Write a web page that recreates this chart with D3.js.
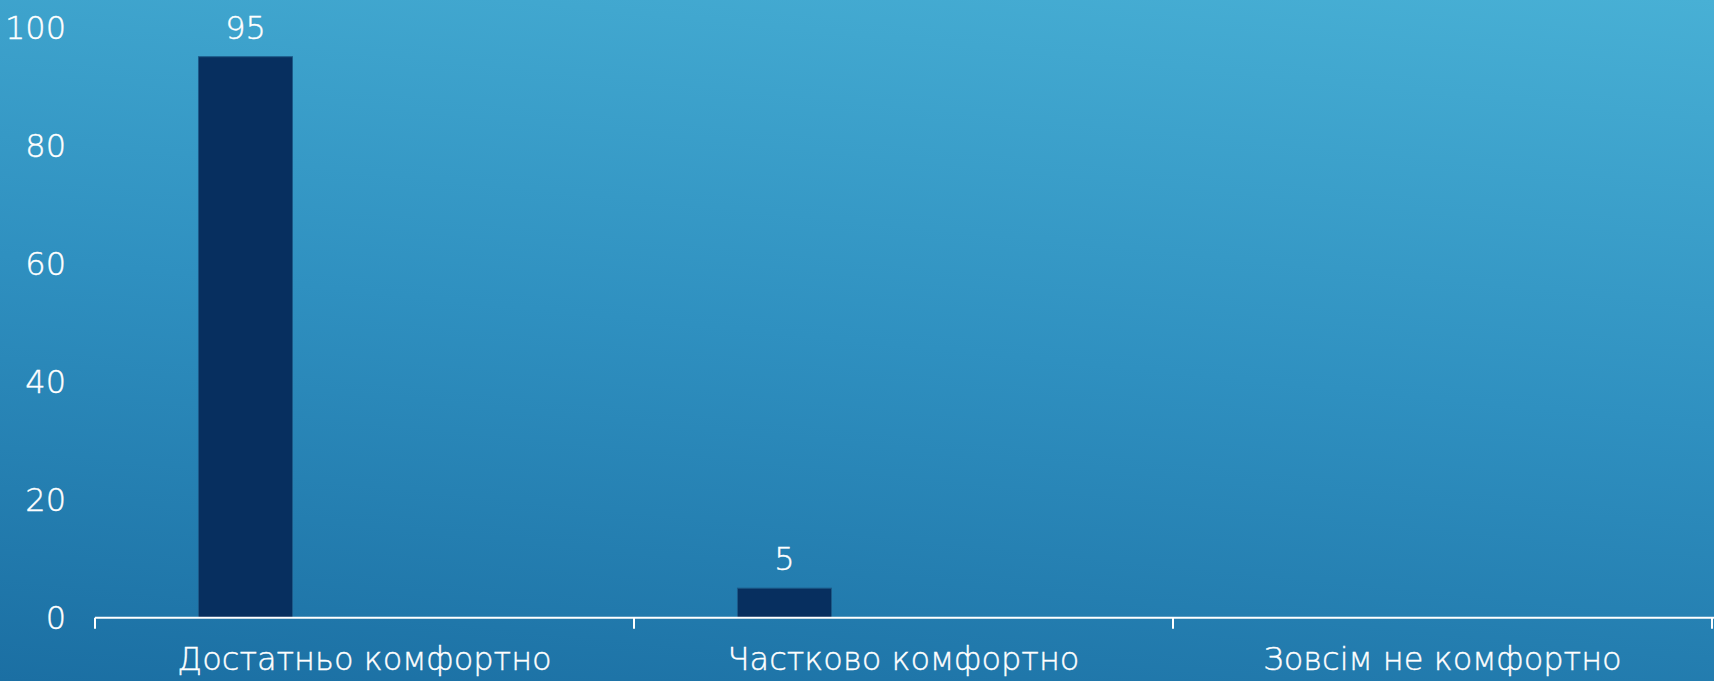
<!DOCTYPE html>
<html>
<head>
<meta charset="utf-8">
<script src="https://cdn.jsdelivr.net/npm/d3@7"></script>
<style>
  html, body { margin: 0; padding: 0; background: #2F90C0; }
  svg { display: block; }
  text { font-family: "DejaVu Sans", "Noto Sans", sans-serif; font-weight: 200; fill: #ffffff; stroke: #ffffff; stroke-width: 0.4px; }
</style>
</head>
<body>
<svg id="chart" width="1714" height="681"></svg>
<script>
const categories = ["Достатньо комфортно", "Частково комфортно", "Зовсім не комфортно"];
const values = [95, 5, null];
const yTicks = [0, 20, 40, 60, 80, 100];

const W = 1714, H = 681;
const svg = d3.select("#chart");

// background gradient
const defs = svg.append("defs");
const grad = defs.append("linearGradient")
  .attr("id", "bg").attr("gradientUnits", "userSpaceOnUse")
  .attr("x1", 0).attr("y1", H).attr("x2", 84).attr("y2", H - 844);
grad.append("stop").attr("offset", "0").attr("stop-color", "#1B6FA3");
grad.append("stop").attr("offset", "0.5").attr("stop-color", "#2F90C0");
grad.append("stop").attr("offset", "1").attr("stop-color", "#48B0D5");
svg.append("rect").attr("width", W).attr("height", H).attr("fill", "url(#bg)");

const x = d3.scaleBand().domain(categories).range([95, 1712]).padding(0);
const y = d3.scaleLinear().domain([0, 100]).range([617.7, 27.2]);

// bars
const bw = x.bandwidth();
const data = categories.map((c, i) => ({ c, v: values[i] })).filter(d => d.v != null);
svg.append("g").selectAll("rect").data(data).join("rect")
  .attr("x", d => x(d.c) + bw * 0.192)
  .attr("width", bw * 0.1744)
  .attr("y", d => y(d.v))
  .attr("height", d => y(0) - y(d.v))
  .attr("fill", "#072F5F")
  .attr("stroke", "#1D5A88")
  .attr("stroke-width", 1);

// value labels
svg.append("g").selectAll("text").data(data).join("text")
  .attr("x", d => x(d.c) + bw * 0.192 + bw * 0.1744 / 2)
  .attr("y", d => y(d.v) - 18)
  .attr("text-anchor", "middle")
  .style("font-size", "32px")
  .text(d => d.v);

// y axis labels
svg.append("g").selectAll("text").data(yTicks).join("text")
  .attr("x", 66)
  .attr("y", d => y(d))
  .attr("dy", "0.36em")
  .attr("text-anchor", "end")
  .style("font-size", "32px")
  .text(d => d);

// x axis
const xAxis = d3.axisBottom(x).tickSize(0).tickPadding(0).tickSizeOuter(0);
const gx = svg.append("g").attr("transform", `translate(0,${y(0)})`).call(xAxis);
gx.select(".domain").remove();
gx.selectAll("text").style("font-size", "32px").attr("fill", "#fff").attr("dy", 0).attr("y", 52);
gx.append("line").attr("x1", 95).attr("x2", W).attr("y1", 0).attr("y2", 0)
  .attr("stroke", "#fff").attr("stroke-width", 2);
const bounds = categories.map(c => x(c)).concat([x(categories[categories.length - 1]) + bw]);
gx.selectAll(".bt").data(bounds).join("line").attr("class", "bt")
  .attr("x1", d => d).attr("x2", d => d).attr("y1", 0).attr("y2", 11)
  .attr("stroke", "#fff").attr("stroke-width", 2);
</script>
</body>
</html>
